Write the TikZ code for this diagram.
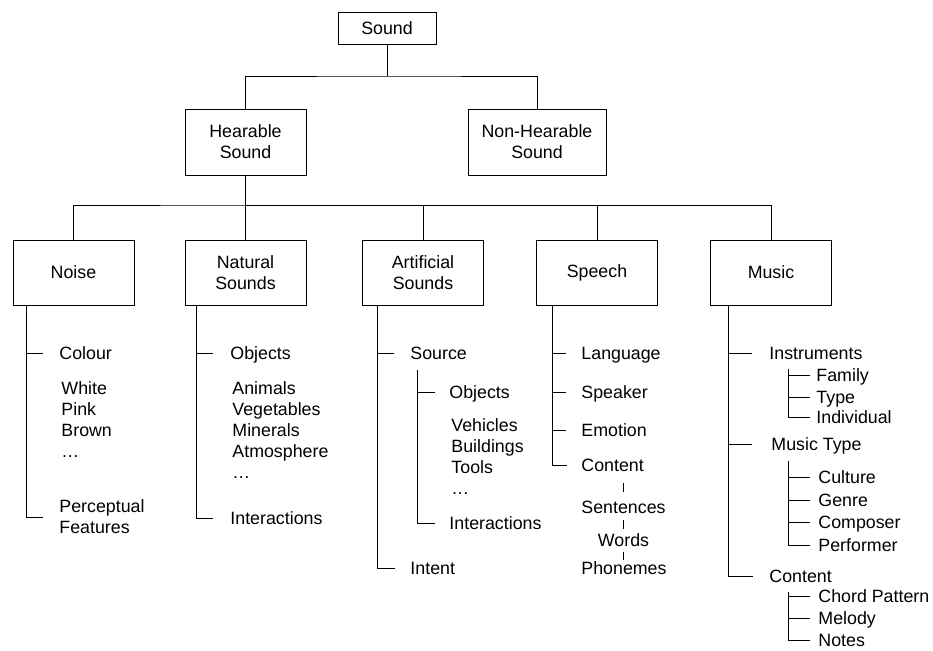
\documentclass[tikz,border=0pt]{standalone}
\usepackage{fontspec}
\setmainfont{Liberation Sans}
\usetikzlibrary{calc}

\tikzset{
  box/.style={draw, minimum width=121pt, minimum height=65pt, align=center, inner sep=2pt},
  leaf/.style={anchor=west, inner sep=0pt, text height=12.7pt, text depth=0pt},
  list/.style={anchor=north west, inner sep=0pt, align=left},
}

\begin{document}
\begin{tikzpicture}[x=1pt, y=-1pt, line width=0.9pt, font=\fontsize{17.8}{21}\selectfont]
  \useasboundingbox (0,0) rectangle (933,650);
  % top of the tree
  \node[box, minimum width=98pt, minimum height=32pt] (sound) at (387,28) {Sound};
  \node[box, minimum height=66pt] (hear) at (245.5,142) {Hearable\\Sound};
  \node[box, minimum width=138pt, minimum height=66pt] (nonhear) at (537,142) {Non-Hearable\\Sound};
  \coordinate (j1) at (387,76);
  \draw (sound) -- (j1);
  \draw (hear) |- (j1) -| (nonhear);

  % kinds of hearable sound
  \node[box] (noise) at (73.5,272.5) {Noise};
  \node[box] (natural) at (245.5,272.5) {Natural\\Sounds};
  \node[box] (artificial) at (423,272.5) {Artificial\\Sounds};
  \node[box] (speech) at (597,272.5) {Speech};
  \node[box] (music) at (771,272.5) {Music};
  \coordinate (j2) at (245.5,205);
  \draw (hear) -- (natural);
  \draw (noise) |- (j2) -| (music);
  \draw (artificial) |- (j2);
  \draw (speech) |- (j2);

  % noise
  \node[leaf] (colour) at (59,353) {Colour};
  \node[list] (colours) at (61,381.6) {White\\Pink\\Brown\\\ldots};
  \node[list, anchor=west] (percept) at (59,517) {Perceptual\\Features};
  \coordinate (nv) at ([xshift=14pt]noise.south west);
  \draw (nv) |- ($(percept.west)+(-16,0)$);
  \draw (colour.west -| nv) -- ++(16,0);

  % natural sounds
  \node[leaf] (objects) at (230,353) {Objects};
  \node[list] (kinds) at (232,381.6) {Animals\\Vegetables\\Minerals\\Atmosphere\\\ldots};
  \node[leaf] (interact) at (230,518) {Interactions};
  \coordinate (sv) at ([xshift=12pt]natural.south west);
  \draw (sv) |- ($(interact.west)+(-17,0)$);
  \draw (objects.west -| sv) -- ++(16,0);

  % artificial sounds
  \node[leaf] (source) at (410,353) {Source};
  \node[leaf] (sobjects) at (449,392) {Objects};
  \node[list] (things) at (451,418.6) {Vehicles\\Buildings\\Tools\\\ldots};
  \node[leaf] (sinteract) at (449,523) {Interactions};
  \node[leaf] (intent) at (410,568) {Intent};
  \coordinate (av) at ([xshift=15pt]artificial.south west);
  \draw (av) |- ($(intent.west)+(-15,0)$);
  \draw (source.west -| av) -- ++(17,0);
  \coordinate (av2) at ($(source.west)+(7,17)$);
  \draw (av2) |- ($(sinteract.west)+(-14,0)$);
  \draw (sobjects.west -| av2) -- ++(18,0);

  % speech
  \node[leaf] (language) at (581,353) {Language};
  \node[leaf] (speaker) at (581,392) {Speaker};
  \node[leaf] (emotion) at (581,430) {Emotion};
  \node[leaf] (content) at (581,465) {Content};
  \node[leaf] (sentences) at (581,507) {Sentences};
  \node[leaf, anchor=center] (words) at ($(sentences.center)+(0,33)$) {Words};
  \node[leaf] (phonemes) at (581,568) {Phonemes};
  \coordinate (pv) at ([xshift=16pt]speech.south west);
  \draw (pv) |- ($(content.west)+(-14,0)$);
  \foreach \n in {language,speaker,emotion}
    \draw (\n.west -| pv) -- ++(14,0);
  \draw ($(content.south -| sentences.north)+(0,11)$) -- ($(sentences.north)+(0,-8)$);
  \draw ($(sentences.south)+(0,6)$) -- ($(words.north)+(0,-4)$);
  \draw ($(words.south)+(0,5)$) -- ($(phonemes.north -| words.north)+(0,-1)$);

  % music
  \node[leaf] (instruments) at (769,353) {Instruments};
  \node[leaf] (family) at (816,375) {Family};
  \node[leaf] (type) at (816,397) {Type};
  \node[leaf] (individual) at (816,417) {Individual};
  \node[leaf] (musictype) at (771,444) {Music Type};
  \node[leaf] (culture) at (818,477) {Culture};
  \node[leaf] (genre) at (818,500) {Genre};
  \node[leaf] (composer) at (818,522) {Composer};
  \node[leaf] (performer) at (818,545) {Performer};
  \node[leaf] (mcontent) at (769,576) {Content};
  \node[leaf] (chord) at (818,596) {Chord Pattern};
  \node[leaf] (melody) at (818,618) {Melody};
  \node[leaf] (notes) at (818,640) {Notes};
  \coordinate (mv) at ([xshift=18pt]music.south west);
  \draw (mv) |- ($(mcontent.west)+(-16,0)$);
  \foreach \n in {instruments,musictype}
    \draw (\n.west -| mv) -- ++(24,0);
  \coordinate (mv1) at (788,369);
  \draw (mv1) |- ($(individual.west)+(-6,0)$);
  \foreach \n in {family,type}
    \draw (\n.west -| mv1) -- ++(22,0);
  \coordinate (mv2) at (788,461);
  \draw (mv2) |- ($(performer.west)+(-8,0)$);
  \foreach \n in {culture,genre,composer}
    \draw (\n.west -| mv2) -- ++(22,0);
  \coordinate (mv3) at (788,592);
  \draw (mv3) |- ($(notes.west)+(-8,0)$);
  \foreach \n in {chord,melody}
    \draw (\n.west -| mv3) -- ++(22,0);
\end{tikzpicture}
\end{document}
